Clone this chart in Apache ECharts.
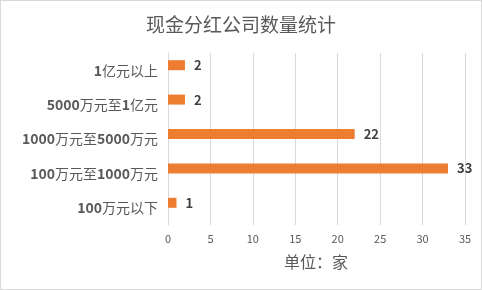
<!DOCTYPE html>
<html><head><meta charset="utf-8">
<script src="https://cdn.jsdelivr.net/npm/echarts@6/dist/echarts.min.js"></script>
<style>html,body{margin:0;padding:0;background:#fff}#c{width:482px;height:290px;box-sizing:border-box;border:1px solid #d9d9d9}</style>
</head><body><div id="c"></div>
<script>
const categories = ['100万元以下','100万元至1000万元','1000万元至5000万元','5000万元至1亿元','1亿元以上'];
const values = [1, 33, 22, 2, 2];
const xTicks = {min: 0, max: 35, step: 5};
const titleText = '现金分红公司数量统计';
const unitText = '单位：家';

const chart = echarts.init(document.getElementById('c'));
const font = '"Noto Sans CJK SC", "Microsoft YaHei", sans-serif';
chart.setOption({
  animation: false,
  title: {text: titleText, left: 'center', top: 9,
    textStyle: {fontFamily: font, fontSize: 19, fontWeight: 'normal', color: '#595959'}},
  graphic: [{type: 'text', left: 283, top: 253,
    style: {text: unitText, font: '16px ' + font, fill: '#595959'}}],
  grid: {left: 167, right: 16, top: 52, bottom: 64, containLabel: false},
  xAxis: {type: 'value', min: xTicks.min, max: xTicks.max, interval: xTicks.step,
    axisLine: {show: false}, axisTick: {show: false},
    splitLine: {lineStyle: {color: '#d9d9d9', width: 1}},
    axisLabel: {color: '#595959', fontSize: 11, fontFamily: font, margin: 8}},
  yAxis: {type: 'category', data: categories,
    axisLine: {show: true, lineStyle: {color: '#d9d9d9'}}, axisTick: {show: false},
    axisLabel: {color: '#595959', fontSize: 14, fontFamily: font, margin: 10,
      formatter: v => v.replace(/(\d+)|(\D+)/g, (m, d) => d ? '{d|' + m + '}' : '{c|' + m + '}'),
      rich: {
        d: {fontSize: 14, fontWeight: 'bold', color: '#595959', fontFamily: font},
        c: {fontSize: 14, color: '#595959', fontFamily: font}
      }}},
  series: [
    {type: 'bar', data: values, barWidth: 10, barGap: '0%', itemStyle: {color: '#ED7D31'},
     label: {show: true, position: 'right', distance: 9, color: '#404040', fontWeight: 'bold', fontSize: 13, fontFamily: font}},
    {type: 'bar', data: values.map(() => null), barWidth: 10, barGap: '0%'}
  ]
});
</script></body></html>
